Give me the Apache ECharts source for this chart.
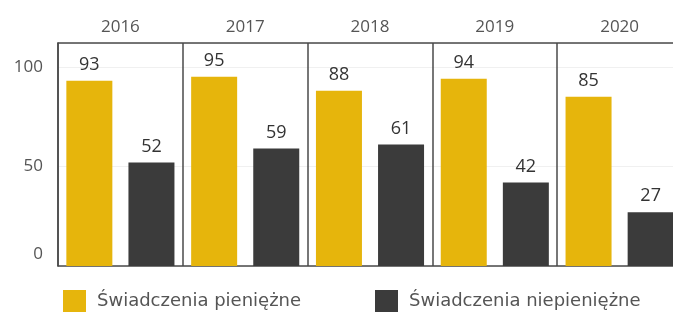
<!DOCTYPE html>
<html><head><meta charset="utf-8">
<script src="https://cdn.jsdelivr.net/npm/echarts@6/dist/echarts.min.js"></script>
<style>html,body{margin:0;padding:0;background:#fff;overflow:hidden}#c{width:682px;height:312px}</style>
</head><body><div id="c"></div>
<script>
const years = ['2016', '2017', '2018', '2019', '2020'];
const seriesNames = ['Świadczenia pieniężne', 'Świadczenia niepieniężne'];
const pieniezne = [93, 95, 88, 94, 85];
const niepieniezne = [52, 59, 61, 42, 27];
const yTicks = [0, 50, 100];

const FONT = '"Open Sans", sans-serif';
const LFONT = '"DejaVu Sans", sans-serif';
const chart = echarts.init(document.getElementById('c'), null, {renderer: 'canvas'});
const lineCol = '#4a4a4a';
chart.setOption({
  animation: false,
  textStyle: {fontFamily: FONT},
  grid: {left: 58, top: 43, right: 0, height: 223},
  legend: [
    {data: [seriesNames[0]], left: 63, top: 290, padding: 0, itemWidth: 23, itemHeight: 22, icon: 'rect',
     textStyle: {fontFamily: LFONT, fontSize: 18, color: '#555', padding: [4, 0, 0, 6]}},
    {data: [seriesNames[1]], left: 375, top: 290, padding: 0, itemWidth: 23, itemHeight: 22, icon: 'rect',
     textStyle: {fontFamily: LFONT, fontSize: 18, color: '#555', padding: [4, 0, 0, 6]}}
  ],
  xAxis: [
    {type: 'category', data: years, position: 'bottom',
     axisLine: {show: true, lineStyle: {color: lineCol, width: 1.5}},
     axisTick: {show: false}, axisLabel: {show: false},
     splitLine: {show: true, lineStyle: {color: lineCol, width: 1.5}}},
    {type: 'category', data: years, position: 'top',
     axisLine: {show: true, lineStyle: {color: lineCol, width: 1.5}},
     axisTick: {show: false},
     axisLabel: {fontFamily: FONT, fontSize: 17, color: '#555', margin: 7}}
  ],
  yAxis: {
    type: 'value', min: 0, max: 112, interval: 50,
    axisLine: {show: true, lineStyle: {color: lineCol, width: 1.5}},
    axisTick: {show: false},
    splitLine: {show: true, lineStyle: {color: '#f0f0f0', width: 1}},
    axisLabel: {
      showMaxLabel: false, margin: 15, fontFamily: FONT, fontSize: 17, color: '#555',
      formatter: v => yTicks.includes(v) ? (v === 0 ? '{z|0}' : String(v)) : '',
      rich: {z: {fontFamily: FONT, fontSize: 17, color: '#555', padding: [0, 0, 24, 0]}}
    }
  },
  series: [
    {name: seriesNames[0], type: 'bar', data: pieniezne, barWidth: 46, barGap: '35%',
     itemStyle: {color: '#E6B50C'},
     label: {show: true, position: 'top', distance: 7, fontFamily: FONT, fontSize: 18, color: '#333'}},
    {name: seriesNames[1], type: 'bar', data: niepieniezne, barWidth: 46, barGap: '35%',
     itemStyle: {color: '#3B3B3B'},
     label: {show: true, position: 'top', distance: 7, fontFamily: FONT, fontSize: 18, color: '#333'}}
  ]
});
</script></body></html>
